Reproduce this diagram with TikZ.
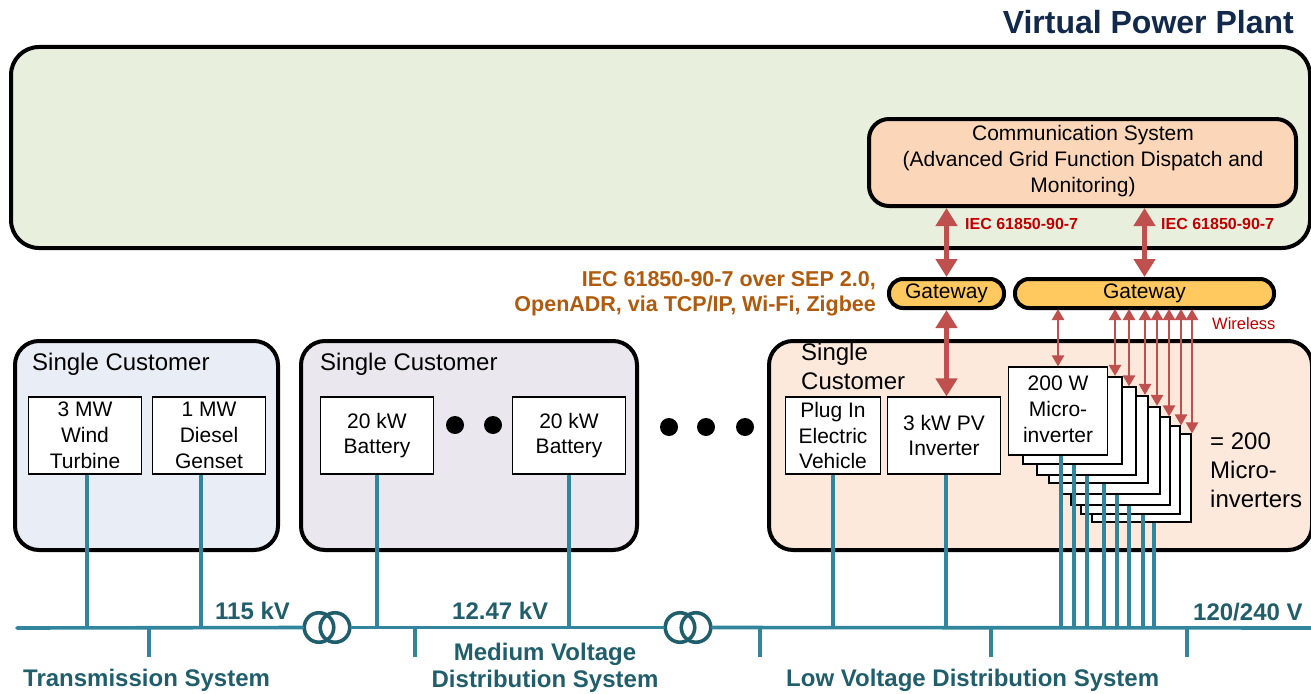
\documentclass[tikz,border=0pt]{standalone}
\usepackage{fontspec}
\usepackage{xcolor}
\usepackage{tikz}
\usetikzlibrary{arrows.meta}
\setmainfont{Liberation Sans}
\definecolor{vppgreen}{HTML}{E9EFDD}
\definecolor{commorange}{HTML}{FBD6B8}
\definecolor{gateyellow}{HTML}{FFC95F}
\definecolor{custblue}{HTML}{E9EEF6}
\definecolor{custgrey}{HTML}{EBE7EF}
\definecolor{custpeach}{HTML}{FCE9DB}
\definecolor{linkred}{HTML}{C0504D}
\definecolor{labelred}{HTML}{C00000}
\definecolor{viabrown}{HTML}{AF5A0C}
\definecolor{busteal}{HTML}{31859C}
\definecolor{darkteal}{HTML}{215E6C}
\definecolor{titlenavy}{HTML}{12294B}
\newcommand\fsz[1]{\fontsize{#1}{#1}\selectfont}
\tikzset{
  bigbox/.style={draw=black,line width=4pt,rounded corners=24pt,align=left},
  custbox/.style={bigbox,minimum height=209pt},
  gatebox/.style={draw=black,line width=4pt,fill=gateyellow,rounded corners=14pt,minimum height=29pt,inner sep=0pt,font=\fsz{21}},
  devbox/.style={draw=black,line width=1.6pt,fill=white,minimum height=76.5pt,inner sep=0pt,align=center,font=\fsz{21}\linespread{1.23}\selectfont},
  microbox/.style={devbox,minimum width=99pt,minimum height=87.5pt},
  xfmr/.style={draw=darkteal,line width=3.6pt,circle,minimum size=29.5pt,inner sep=0pt},
  blackdot/.style={fill=black,circle,minimum size=18pt,inner sep=0pt},
  biglink/.style={linkred,line width=5pt,{Triangle[width=21pt,length=18pt]}-{Triangle[width=21pt,length=18pt]}},
  thinlink/.style={linkred,line width=2.5pt,{Triangle[width=12pt,length=11pt]}-{Triangle[width=12pt,length=11pt]}},
  feeder/.style={busteal,line width=3.6pt},
  busline/.style={busteal,line width=3.6pt,line cap=round},
  voltlabel/.style={darkteal,font=\fsz{24}\bfseries,inner sep=0pt,align=center},
  plainlabel/.style={inner sep=0pt,align=left,font=\fsz{24}}
}
\begin{document}
\begin{tikzpicture}[x=1pt,y=-1pt]
\useasboundingbox (0,0) rectangle (1311,693);
\node[anchor=east,inner sep=0pt,titlenavy,font=\fsz{32}\bfseries] (title) at (1294,22) {Virtual Power Plant};
\node[bigbox,fill=vppgreen,rounded corners=28pt,minimum width=1299pt,minimum height=201pt] (vpp) at (660.5,147.5) {};
\node[bigbox,fill=commorange,rounded corners=20pt,minimum width=427pt,minimum height=87pt] (comm) at (1082.5,162.5) {};
\node[inner sep=0pt,align=center,font=\fsz{21}\linespread{1.24}\selectfont] (commtext) at (1083,161) {Communication System\\(Advanced Grid Function Dispatch and\\Monitoring)};
\node[gatebox,minimum width=115pt] (gwa) at (946.5,293.5) {Gateway};
\node[gatebox,minimum width=259pt] (gwb) at (1144.5,293.5) {Gateway};
%customers
\node[custbox,fill=custblue,minimum width=263pt] (custa) at (146.5,445.5) {};
\node[custbox,fill=custgrey,minimum width=336pt] (custb) at (469,445.5) {};
\node[custbox,fill=custpeach,minimum width=543pt] (custc) at (1040.5,445.5) {};
\node[plainlabel,anchor=west] (namea) at (32,364) {Single Customer};
\node[plainlabel,anchor=west] (nameb) at (320,364) {Single Customer};
\node[plainlabel,anchor=north west,font=\fsz{24}\linespread{1.2}\selectfont] (namec) at (801,343) {Single\\Customer};
%devices
\node[devbox,minimum width=113pt] (wind) at (85,435.5) {3 MW\\Wind\\Turbine};
\node[devbox,minimum width=113pt] (diesel) at (209,435.5) {1 MW\\Diesel\\Genset};
\node[devbox,minimum width=113pt] (batta) at (377,435.5) {20 kW\\Battery};
\node[devbox,minimum width=113pt] (battb) at (569,435.5) {20 kW\\Battery};
\node[devbox,minimum width=95pt] (ev) at (833,435.5) {Plug In\\Electric\\Vehicle};
\node[devbox,minimum width=113pt] (pv) at (944,435.5) {3 kW PV\\Inverter};
\node[blackdot] (dota) at (455,425) {};
\node[blackdot] (dotb) at (493,425) {};
\node[blackdot] (dotc) at (669,427) {};
\node[blackdot] (dotd) at (706,427) {};
\node[blackdot] (dote) at (745,427) {};
%micro-inverter stack, back to front
\foreach \n/\x/\y in {8/1141.5/478,7/1130.5/470,6/1120.5/461,5/1110.5/450.5,4/1098.5/439.5,3/1086.5/431,2/1072.5/420.5,1/1058/411}
  \node[microbox] (mi\n) at (\x,\y) {};
\node[inner sep=0pt,align=center,font=\fsz{21}\linespread{1.23}\selectfont] (mitext) at (1058,409) {200 W\\Micro-\\inverter};
\node[plainlabel,anchor=north west,font=\fsz{24}\linespread{1.2}\selectfont] (micronote) at (1210,433) {= 200\\Micro-\\inverters};
%labels
\node[inner sep=0pt,anchor=west,labelred,font=\fsz{16}\bfseries] (ieca) at (965,224) {IEC 61850-90-7};
\node[inner sep=0pt,anchor=west,labelred,font=\fsz{16}\bfseries] (iecb) at (1161,224) {IEC 61850-90-7};
\node[inner sep=0pt,anchor=west,labelred,font=\fsz{16.5}] (wireless) at (1212,324) {Wireless};
\node[inner sep=0pt,anchor=east,align=right,viabrown,font=\fsz{21.5}\bfseries\linespread{1.15}\selectfont] (via) at (876,294) {IEC 61850-90-7 over SEP 2.0,\\OpenADR, via TCP/IP, Wi-Fi, Zigbee};
%links
\draw[biglink] (gwa.north |- comm.south)--(gwa.north);
\draw[biglink] (gwb.north |- comm.south)--(gwb.north);
\draw[biglink] (gwa.south)--(gwa.south |- pv.north);
\foreach \n/\x in {1/1058,2/1115,3/1129,4/1145,5/1157,6/1169,7/1181,8/1192}{
  \coordinate (ar\n) at (\x,309);
  \draw[thinlink] (ar\n)--(ar\n |- mi\n.north);
}
%bus
\coordinate (busa) at (17,628);
\coordinate (busb) at (1311,628);
\node[xfmr] (xfa) at (319,627.5) {};
\node[xfmr] (xfb) at (335,627.5) {};
\node[xfmr] (xfc) at (680,627.5) {};
\node[xfmr] (xfd) at (696,627.5) {};
\draw[busline] (busa)--(xfa.west);
\draw[busline] (xfb.east)--(xfc.west);
\draw[busline] (xfd.east)--(busb);
%drops
\foreach \n/\x in {wind/87,diesel/201,batta/377,battb/569,ev/833,pv/946}{
  \coordinate (tap\n) at (\x,628);
  \draw[feeder] (tap\n |- \n.south)--(tap\n);
}
\foreach \n/\x in {1/1061,2/1074,3/1087,4/1104,5/1117,6/1129,7/1143,8/1154}{
  \coordinate (tapm\n) at (\x,628);
  \draw[feeder] (tapm\n |- mi\n.south)--(tapm\n);
}
\foreach \n/\x in {a/149,b/415,c/760,d/991,e/1187}{
  \coordinate (tick\n) at (\x,628);
  \coordinate (tock\n) at (\x,657);
  \draw[feeder] (tick\n)--(tock\n);
}
%voltages
\node[voltlabel,anchor=west] (kva) at (215,611) {115 kV};
\node[voltlabel,anchor=west] (kvb) at (452,611) {12.47 kV};
\node[voltlabel,anchor=west] (kvc) at (1193,612) {120/240 V};
\node[voltlabel,anchor=west] (systa) at (23,680) {Transmission System};
\node[voltlabel,font=\fsz{24}\bfseries\linespread{1.12}\selectfont] (systb) at (545,667.5) {Medium Voltage\\Distribution System};
\node[voltlabel,anchor=west] (systc) at (786,680) {Low Voltage Distribution System};
\end{tikzpicture}
\end{document}
